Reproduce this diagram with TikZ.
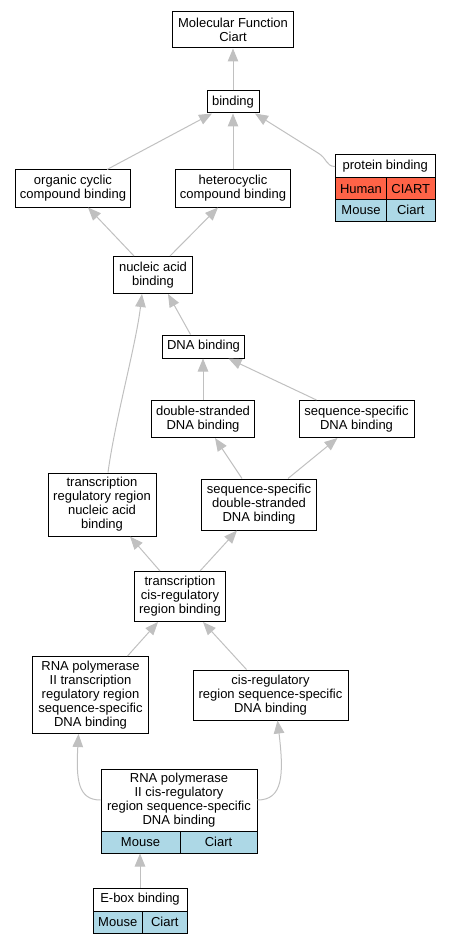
\documentclass[tikz,border=0pt]{standalone}
\usepackage{fontspec}
\setmainfont{Liberation Sans}
\usetikzlibrary{arrows.meta,calc}
\definecolor{edgegray}{RGB}{192,192,192}
\definecolor{tomatored}{RGB}{255,99,71}
\definecolor{lblue}{RGB}{173,216,230}
\begin{document}
\begin{tikzpicture}[x=1pt,y=-1pt,
  every node/.style={font=\fontsize{13}{14}\selectfont},
  box/.style={draw=black, line width=1pt, fill=white, align=center, inner sep=0pt},
  cellred/.style={box, fill=tomatored},
  cellblue/.style={box, fill=lblue},
  edge/.style={draw=edgegray, line width=1pt, -{Triangle[length=13pt,width=10.5pt]}}
]
\useasboundingbox (0,0) rectangle (451,944);
% nodes
\node[box, minimum width=121pt, minimum height=36pt] (mf) at (233,30) {Molecular Function\\Ciart};
\node[box, minimum width=52pt, minimum height=22pt] (bind) at (233,102) {binding};
\node[box, minimum width=115pt, minimum height=37pt] (org) at (73,188.5) {organic cyclic\\compound binding};
\node[box, minimum width=115pt, minimum height=37pt] (het) at (233,188.5) {heterocyclic\\compound binding};
% protein binding table
\node[box, minimum width=99.5pt, minimum height=23pt] (pb) at (385.25,166.5) {protein binding};
\node[cellred, minimum width=51pt, minimum height=21.5pt] (pbh) at (361,188.75) {Human};
\node[cellred, minimum width=48.5pt, minimum height=21.5pt] (pbhg) at (410.75,188.75) {CIART};
\node[cellblue, minimum width=51pt, minimum height=21.5pt] (pbm) at (361,210.25) {Mouse};
\node[cellblue, minimum width=48.5pt, minimum height=21.5pt] (pbmg) at (410.75,210.25) {Ciart};
\node[box, minimum width=79pt, minimum height=37pt] (nab) at (153,275) {nucleic acid\\binding};
\node[box, minimum width=82pt, minimum height=23pt] (dna) at (203.5,346.5) {DNA binding};
\node[box, minimum width=103pt, minimum height=37pt] (ds) at (203,419) {double-stranded\\DNA binding};
\node[box, minimum width=115pt, minimum height=37pt] (ss) at (356.5,419) {sequence-specific\\DNA binding};
\node[box, minimum width=108pt, minimum height=63pt] (trr) at (102,504.5) {transcription\\regulatory region\\nucleic acid\\binding};
\node[box, minimum width=115pt, minimum height=51pt] (ssds) at (259,504.5) {sequence-specific\\double-stranded\\DNA binding};
\node[box, minimum width=91pt, minimum height=50pt] (tcis) at (180,596.5) {transcription\\cis-regulatory\\region binding};
\node[box, minimum width=116pt, minimum height=77pt] (rnap2) at (90.5,695) {RNA polymerase\\II transcription\\regulatory region\\sequence-specific\\DNA binding};
\node[box, minimum width=155pt, minimum height=50pt] (cisreg) at (270.5,695) {cis-regulatory\\region sequence-specific\\DNA binding};
% RNA pol II cis-regulatory table
\node[box, minimum width=156pt, minimum height=62pt] (rp) at (179,800) {RNA polymerase\\II cis-regulatory\\region sequence-specific\\DNA binding};
\node[cellblue, minimum width=79pt, minimum height=22pt] (rpm) at (140.5,842) {Mouse};
\node[cellblue, minimum width=77pt, minimum height=22pt] (rpmg) at (218.5,842) {Ciart};
% E-box table
\node[box, minimum width=94pt, minimum height=23pt] (eb) at (140,899.5) {E-box binding};
\node[cellblue, minimum width=49.5pt, minimum height=22pt] (ebm) at (117.75,922) {Mouse};
\node[cellblue, minimum width=44.5pt, minimum height=22pt] (ebmg) at (164.75,922) {Ciart};
% edges
\draw[edge] (bind.north) -- (mf.south);
\draw[edge] ([xshift=34pt]org.north) -- ([xshift=-21pt]bind.south);
\draw[edge] (het.north) -- (bind.south);
\draw[edge] (pb.west) .. controls (326,166.5) and (327,158) .. (318,153) -- ([xshift=22pt]bind.south);
\draw[edge] ([xshift=-19pt]nab.north) -- ([xshift=15pt]org.south);
\draw[edge] ([xshift=17pt]nab.north) -- ([xshift=-15pt]het.south);
\draw[edge] ([xshift=-13pt]dna.north) -- ([xshift=15pt]nab.south);
\draw[edge] ([xshift=6pt]trr.north) .. controls (115,420) and (136,345) .. ([xshift=-11pt]nab.south);
\draw[edge] (ds.north) -- (ds.north |- dna.south);
\draw[edge] ([xshift=-40pt]ss.north) -- ([xshift=25pt]dna.south);
\draw[edge] ([xshift=-17pt]ssds.north) -- ([xshift=12pt]ds.south);
\draw[edge] ([xshift=29pt]ssds.north) -- ([xshift=-19pt]ss.south);
\draw[edge] ([xshift=-20pt]tcis.north) -- ([xshift=28pt]trr.south);
\draw[edge] ([xshift=20pt]tcis.north) -- ([xshift=-22pt]ssds.south);
\draw[edge] ([xshift=37pt]rnap2.north) -- ([xshift=-22pt]tcis.south);
\draw[edge] ([xshift=-24pt]cisreg.north) -- ([xshift=23pt]tcis.south);
\draw[edge] (rp.west) .. controls (78,800) and (76,780) .. ([xshift=-12pt]rnap2.south);
\draw[edge] (rp.east) .. controls (283,800) and (284,775) .. ([xshift=7pt]cisreg.south);
\draw[edge] (eb.north) -- (eb.north |- rpm.south);
\end{tikzpicture}
\end{document}
